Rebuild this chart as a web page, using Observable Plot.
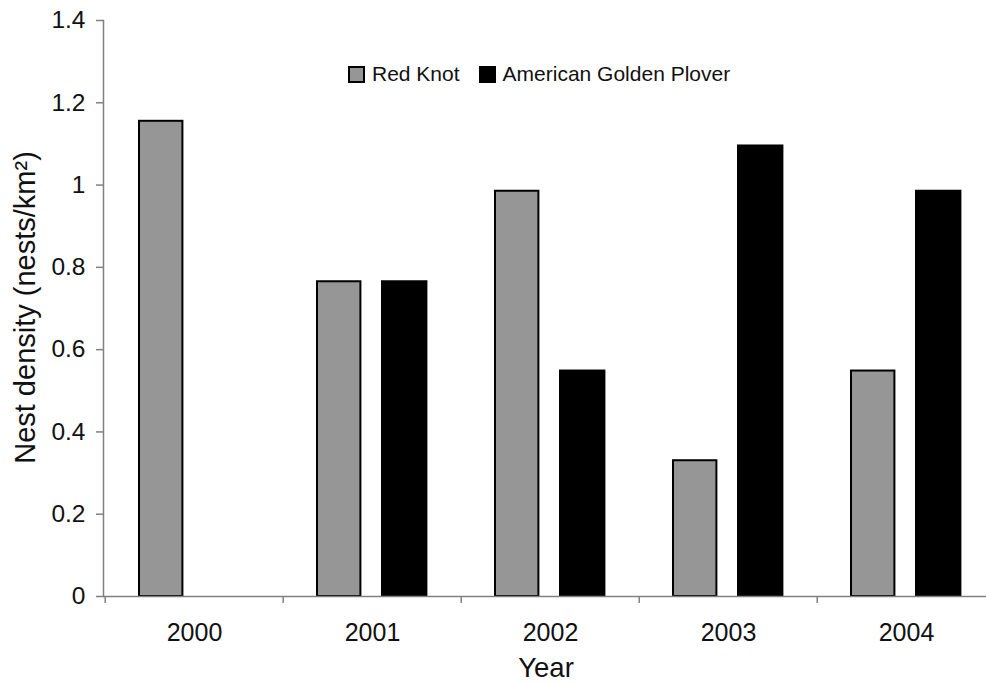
<!DOCTYPE html>
<html><head><meta charset="utf-8">
<script src="https://cdn.jsdelivr.net/npm/d3@7"></script>
<script src="https://cdn.jsdelivr.net/npm/@observablehq/plot@0.6"></script>
<style>
body{margin:0;background:#fff;font-family:"Liberation Sans",Arial,sans-serif;overflow:hidden}
#wrap{position:relative;width:986px;height:684px;overflow:hidden}
#legend{position:absolute;left:348px;top:62px;display:flex;align-items:center;font-size:21px;color:#111;white-space:nowrap}
.sw{width:13px;height:13px;border:2px solid #000;display:inline-block;margin-right:7px}
.item{display:flex;align-items:center;margin-right:19px}
</style></head><body><div id="wrap"><div id="legend"></div></div>
<script>
const years = ["2000", "2001", "2002", "2003", "2004"];
const redKnot = [1.155, 0.765, 0.985, 0.33, 0.548];
const goldenPlover = [null, 0.765, 0.548, 1.095, 0.985];
const seriesNames = ["Red Knot", "American Golden Plover"];
const seriesColors = ["#969696", "#000000"];
const yTicks = [0, 0.2, 0.4, 0.6, 0.8, 1, 1.2, 1.4];
const xTitle = "Year";
const yTitle = "Nest density (nests/km²)";

const rows = [];
years.forEach((y, i) => {
  if (redKnot[i] != null) rows.push({year: y, series: seriesNames[0], value: redKnot[i]});
  if (goldenPlover[i] != null) rows.push({year: y, series: seriesNames[1], value: goldenPlover[i]});
});

const W = 986, H = 684, ML = 103, MR = -10;
const bandW = (W - ML - MR) / years.length;

const chart = Plot.plot({
  width: W, height: H,
  marginLeft: ML, marginRight: MR, marginTop: 20, marginBottom: 88,
  style: {fontFamily: "Liberation Sans, Arial, sans-serif", color: "#111", background: "transparent", overflow: "visible"},
  x: {type: "band", domain: years, padding: 0, axis: null},
  y: {domain: [0, 1.4], axis: null},
  marks: [
    Plot.barY(rows.filter(d => d.series === seriesNames[0]), {x: "year", y: "value", fill: seriesColors[0], stroke: "#000", strokeWidth: 2, insetLeft: 34, insetRight: bandW - 78}),
    Plot.barY(rows.filter(d => d.series === seriesNames[1]), {x: "year", y: "value", fill: seriesColors[1], stroke: "#000", strokeWidth: 2, insetLeft: 99, insetRight: bandW - 144}),
    Plot.ruleY([0], {stroke: "#808080", strokeWidth: 1.5}),
    Plot.frame({anchor: "left", stroke: "#808080", strokeWidth: 1.5}),
    Plot.axisY({ticks: yTicks, tickSize: 7, tickPadding: 11, fontSize: 24.5, tickFormat: d3.format("~g"), label: null, stroke: "#808080", fill: "#111", strokeWidth: 1.5}),
    Plot.axisX({tickSize: 0, tickPadding: 27, fontSize: 25, label: null, fill: "#111"}),
    Plot.axisX({tickSize: 7, tickFormat: () => "", dx: -bandW / 2, label: null, stroke: "#808080", strokeWidth: 1.5}),
    Plot.text([xTitle], {frameAnchor: "bottom", dy: 80, dx: -4, fontSize: 27.5, fill: "#111"}),
    Plot.text([yTitle], {frameAnchor: "left", textAnchor: "middle", rotate: -90, dx: -78, dy: -1, fontSize: 29, fill: "#111"})
  ]
});
document.getElementById("wrap").prepend(chart);

const legend = document.getElementById("legend");
seriesNames.forEach((name, i) => {
  const item = document.createElement("div");
  item.className = "item";
  const sw = document.createElement("span");
  sw.className = "sw";
  sw.style.background = seriesColors[i];
  item.appendChild(sw);
  item.appendChild(document.createTextNode(name));
  legend.appendChild(item);
});
</script>
</body></html>
